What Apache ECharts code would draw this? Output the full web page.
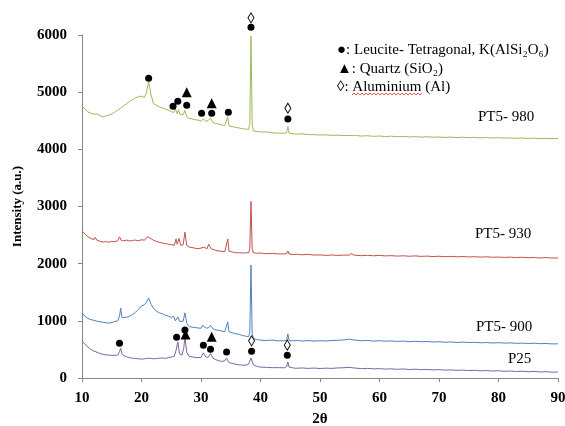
<!DOCTYPE html>
<html>
<head>
<meta charset="utf-8">
<script src="https://cdn.jsdelivr.net/npm/echarts@6/dist/echarts.min.js"></script>
<style>
  html, body { margin: 0; padding: 0; background: #fff; }
  #chart { width: 565px; height: 426px; }
</style>
</head>
<body>
<div id="chart"></div>
<script>
// 2θ / intensity pairs
var pt5_980 = [
  [10,4760],[10.5,4705],[11,4655],[11.5,4630],[12,4615],[12.5,4622],[13,4592],[13.5,4570],[14,4582],[14.5,4598],
  [15,4622],[15.5,4648],[16,4684],[16.5,4718],[17,4762],[17.5,4798],[18,4842],[18.5,4868],[19,4902],[19.5,4918],
  [20,4932],[20.5,4905],[20.8,4980],[21.2,5180],[21.6,4960],[22,4800],[22.5,4772],[23,4742],[23.5,4725],[24,4702],
  [24.5,4684],[25,4662],[25.4,4642],[25.7,4705],[26,4622],[26.2,4690],[26.5,4612],[27,4602],[27.3,4680],[27.6,4572],
  [28,4542],[28.5,4532],[29,4518],[29.5,4512],[30,4492],[30.4,4532],[30.8,4490],[31.2,4502],[31.6,4545],[32,4470],
  [32.5,4452],[33,4442],[33.5,4428],[34,4420],[34.3,4410],[34.5,4570],[34.7,4410],[35,4400],[35.5,4392],[36,4380],
  [36.5,4372],[37,4360],[37.5,4356],[38,4350],[38.2,4450],[38.4,5980],[38.6,4450],[38.8,4322],[39.5,4312],[40,4302],
  [41,4305],[42,4290],[43,4284],[44,4280],[44.4,4292],[44.6,4400],[44.8,4285],[45.5,4272],[46,4266],[47,4272],
  [48,4260],[48.3,4290],[48.6,4256],[49,4258],[50,4250],[51,4254],[52,4244],[53,4248],[54,4240],[55,4244],
  [55.3,4266],[55.6,4240],[56,4242],[57,4232],[58,4238],[59,4228],[60,4232],[61,4224],[62,4230],[63,4220],
  [64,4226],[65,4218],[66,4222],[67,4214],[68,4220],[69,4212],[70,4216],[71,4208],[72,4214],[73,4206],
  [74,4212],[75,4204],[76,4208],[77,4200],[78,4206],[79,4198],[80,4204],[81,4196],[82,4200],[83,4194],
  [84,4198],[85,4190],[86,4196],[87,4188],[88,4192],[89,4186],[90,4190]
];
var pt5_930 = [
  [10,2570],[10.5,2520],[11,2472],[11.5,2440],[12,2420],[12.2,2460],[12.5,2410],[13,2392],[13.5,2380],[14,2386],
  [14.5,2375],[15,2390],[15.5,2384],[16,2400],[16.3,2470],[16.6,2410],[17,2400],[17.5,2412],[18,2396],[18.5,2406],
  [19,2412],[19.5,2400],[20,2420],[20.5,2410],[21,2470],[21.4,2450],[22,2410],[22.5,2390],[23,2372],[23.5,2360],
  [24,2352],[24.5,2340],[25,2332],[25.5,2320],[25.8,2430],[26,2340],[26.3,2440],[26.6,2320],[27,2330],[27.3,2550],
  [27.6,2320],[28,2290],[28.5,2282],[29,2270],[29.5,2262],[30,2272],[30.5,2290],[31,2260],[31.3,2340],[31.7,2260],
  [32,2242],[32.5,2232],[33,2222],[33.5,2216],[34,2210],[34.3,2220],[34.5,2430],[34.7,2220],[35,2202],[35.5,2196],
  [36,2190],[36.5,2192],[37,2185],[37.5,2190],[38,2190],[38.2,2260],[38.4,3090],[38.6,2260],[38.8,2190],[39.5,2182],
  [40,2186],[41,2175],[42,2180],[43,2170],[44,2172],[44.4,2176],[44.6,2222],[44.8,2170],[45.5,2160],[46,2166],
  [47,2155],[48,2162],[49,2150],[50,2154],[51,2145],[52,2152],[53,2144],[54,2150],[55,2150],[55.3,2185],
  [55.6,2150],[56,2146],[57,2140],[58,2146],[59,2138],[60,2144],[61,2136],[62,2140],[63,2132],[64,2138],
  [65,2130],[66,2136],[67,2128],[68,2132],[69,2124],[70,2130],[71,2122],[72,2128],[73,2120],[74,2124],
  [75,2118],[76,2122],[77,2114],[78,2120],[79,2112],[80,2116],[81,2110],[82,2114],[83,2106],[84,2112],
  [85,2104],[86,2108],[87,2100],[88,2106],[89,2098],[90,2100]
];
var pt5_900 = [
  [10,1140],[10.5,1080],[11,1042],[11.5,1020],[12,1010],[12.5,992],[13,985],[13.5,975],[14,966],[14.5,960],
  [15,970],[15.5,986],[16,1000],[16.3,1080],[16.5,1225],[16.7,1060],[17,1040],[17.5,1062],[18,1080],[18.5,1112],
  [19,1150],[19.5,1202],[20,1262],[20.5,1280],[20.8,1320],[21.2,1400],[21.6,1290],[22,1220],[22.5,1170],[23,1140],
  [23.5,1122],[24,1100],[24.5,1082],[25,1060],[25.4,1080],[25.7,1000],[26.1,1070],[26.4,990],[27,992],[27.3,1140],
  [27.6,960],[28,900],[28.5,890],[29,882],[29.5,875],[30,870],[30.3,925],[30.7,880],[31.2,872],[31.6,920],
  [32,860],[32.5,842],[33,832],[33.5,820],[34,812],[34.3,820],[34.5,980],[34.7,810],[35,790],[35.5,782],
  [36,770],[36.5,760],[37,742],[37.5,732],[38,720],[38.2,800],[38.4,1975],[38.6,780],[38.8,690],[39.5,672],
  [40,662],[41,656],[42,662],[43,650],[44,652],[44.4,660],[44.6,770],[44.8,655],[45.5,650],[46,656],
  [47,648],[48,655],[49,645],[50,652],[51,648],[52,656],[53,660],[54,666],[55,680],[55.3,692],
  [55.7,665],[56,660],[57,652],[58,656],[59,646],[60,652],[61,644],[62,648],[63,640],[64,646],
  [65,636],[66,642],[67,634],[68,638],[69,630],[70,634],[71,626],[72,630],[73,622],[74,628],
  [75,620],[76,624],[77,616],[78,620],[79,612],[80,618],[81,610],[82,614],[83,606],[84,610],
  [85,604],[86,608],[87,600],[88,604],[89,596],[90,598]
];
var p25 = [
  [10,650],[10.5,590],[11,540],[11.5,500],[12,470],[12.5,452],[13,430],[13.5,415],[14,405],[14.5,400],
  [15,395],[15.5,396],[16,400],[16.3,460],[16.5,520],[16.7,430],[17,390],[17.5,370],[18,356],[18.5,345],
  [19,340],[19.5,336],[20,330],[20.5,336],[21,342],[21.5,346],[22,336],[22.5,340],[23,346],[23.5,350],
  [24,344],[24.5,356],[25,365],[25.5,380],[25.8,480],[26.1,630],[26.4,420],[26.8,400],[27.1,520],[27.3,720],
  [27.6,450],[28,380],[28.5,370],[29,360],[29.5,356],[30,360],[30.4,440],[30.8,370],[31.2,360],[31.6,430],
  [32,350],[32.5,320],[33,300],[33.5,290],[34,300],[34.3,350],[34.6,280],[35,262],[35.5,250],[36,236],
  [36.5,230],[37,226],[37.5,225],[38,240],[38.4,350],[38.8,230],[39.5,200],[40,190],[41,186],[42,180],
  [43,182],[44,178],[44.4,200],[44.6,280],[44.8,190],[45.5,176],[46,170],[47,176],[48,168],[49,174],
  [50,166],[51,172],[52,168],[53,176],[54,180],[55,186],[55.3,196],[55.7,176],[56,170],[57,164],
  [58,168],[59,160],[60,164],[61,156],[62,160],[63,152],[64,158],[65,148],[66,154],[67,146],
  [68,150],[69,142],[70,146],[71,138],[72,142],[73,134],[74,138],[75,130],[76,134],[77,126],
  [78,130],[79,122],[80,126],[81,118],[82,122],[83,114],[84,118],[85,110],[86,114],[87,106],
  [88,110],[89,102],[90,106]
];

// phase markers
var leuciteMarks = [
  [21.2,5245],[25.3,4755],[26.1,4840],[27.6,4770],[30.1,4630],[31.8,4630],[34.6,4650],[38.4,6135],[44.6,4530],
  [16.3,610],[25.9,715],[27.3,840],[30.4,575],[31.6,505],[34.3,455],[38.5,470],[44.5,400]
];
var quartzMarks = [[27.6,5000],[31.8,4805],[27.4,760],[31.8,720]];
var aluminiumMarks = [[38.4,6300],[44.6,4720],[38.5,650],[44.5,575]];

var xTicks = [10, 90, 10];   // min, max, step
var yTicks = [0, 6000, 1000];

var chart = echarts.init(document.getElementById('chart'));
var serif = '"Liberation Serif", "DejaVu Serif", serif';

function line(name, data, color) {
  return {
    name: name, type: 'line', data: data, showSymbol: false, symbol: 'none',
    lineStyle: { color: color, width: 1 }, silent: true, animation: false
  };
}
function marks(data, symbol, size, fill) {
  return {
    type: 'scatter', data: data, symbol: symbol, symbolSize: size, animation: false, silent: true, z: 5,
    clip: false,
    itemStyle: { color: fill, opacity: 1, borderColor: '#000', borderWidth: fill === '#fff' ? 1 : 0 }
  };
}
function label(text, x, y) {
  return { type: 'text', x: x, y: y, style: { text: text, font: '15px ' + serif, fill: '#000', textVerticalAlign: 'middle' } };
}

var option = {
  backgroundColor: '#fff',
  animation: false,
  grid: { left: 82, right: 7, top: 35, bottom: 48, outerBoundsMode: 'none', containLabel: false },
  xAxis: {
    type: 'value', min: xTicks[0], max: xTicks[1], interval: xTicks[2],
    name: '2θ', nameLocation: 'middle', nameGap: 34,
    nameTextStyle: { fontFamily: serif, fontWeight: 'bold', fontSize: 15, color: '#000' },
    axisLine: { show: true, lineStyle: { color: '#868686' } },
    axisTick: { show: true, length: 4, lineStyle: { color: '#868686' } },
    axisLabel: { fontFamily: serif, fontWeight: 'bold', fontSize: 15, color: '#000', margin: 13 },
    splitLine: { show: false }
  },
  yAxis: {
    type: 'value', min: yTicks[0], max: yTicks[1], interval: yTicks[2],
    name: 'Intensity (a.u.)', nameLocation: 'middle', nameGap: 58,
    nameTextStyle: { fontFamily: serif, fontWeight: 'bold', fontSize: 13, color: '#000' },
    axisLine: { show: true, lineStyle: { color: '#868686' } },
    axisTick: { show: true, length: 4, lineStyle: { color: '#868686' } },
    axisLabel: { fontFamily: serif, fontWeight: 'bold', fontSize: 15, color: '#000', margin: 15,
      formatter: function (v) { return String(v); } },
    splitLine: { show: false }
  },
  graphic: [
    label('●: Leucite- Tetragonal, K(AlSi₂O₆)', 337, 50),
    label('▲: Quartz (SiO₂)', 337, 69),
    label('◊: Aluminium (Al)', 337, 87),
    { type: 'polyline', shape: { points: [[352,95],[354,93],[356,95],[358,93],[360,95],[362,93],[364,95],[366,93],[368,95],[370,93],[372,95],[374,93],[376,95],[378,93],[380,95],[382,93],[384,95],[386,93],[388,95],[390,93],[392,95],[394,93],[396,95],[398,93],[400,95],[402,93],[404,95],[406,93],[408,95],[410,93],[412,95],[414,93],[416,95],[418,93],[420,95],[422,93]] },
      style: { stroke: '#e03030', lineWidth: 0.8, fill: null } },
    label('PT5- 980', 478, 117),
    label('PT5- 930', 475, 234),
    label('PT5- 900', 476, 327),
    label('P25', 508, 359)
  ],
  series: [
    line('P25', p25, '#8064A2'),
    line('PT5- 900', pt5_900, '#4F81BD'),
    line('PT5- 930', pt5_930, '#C0504D'),
    line('PT5- 980', pt5_980, '#9BBB59'),
    marks(leuciteMarks, 'circle', 7, '#000'),
    marks(quartzMarks, 'triangle', 10, '#000'),
    marks(aluminiumMarks, 'path://M0,-10 L6,0 L0,10 L-6,0 Z', [6, 10], '#fff')
  ]
};
chart.setOption(option);
</script>
</body>
</html>
